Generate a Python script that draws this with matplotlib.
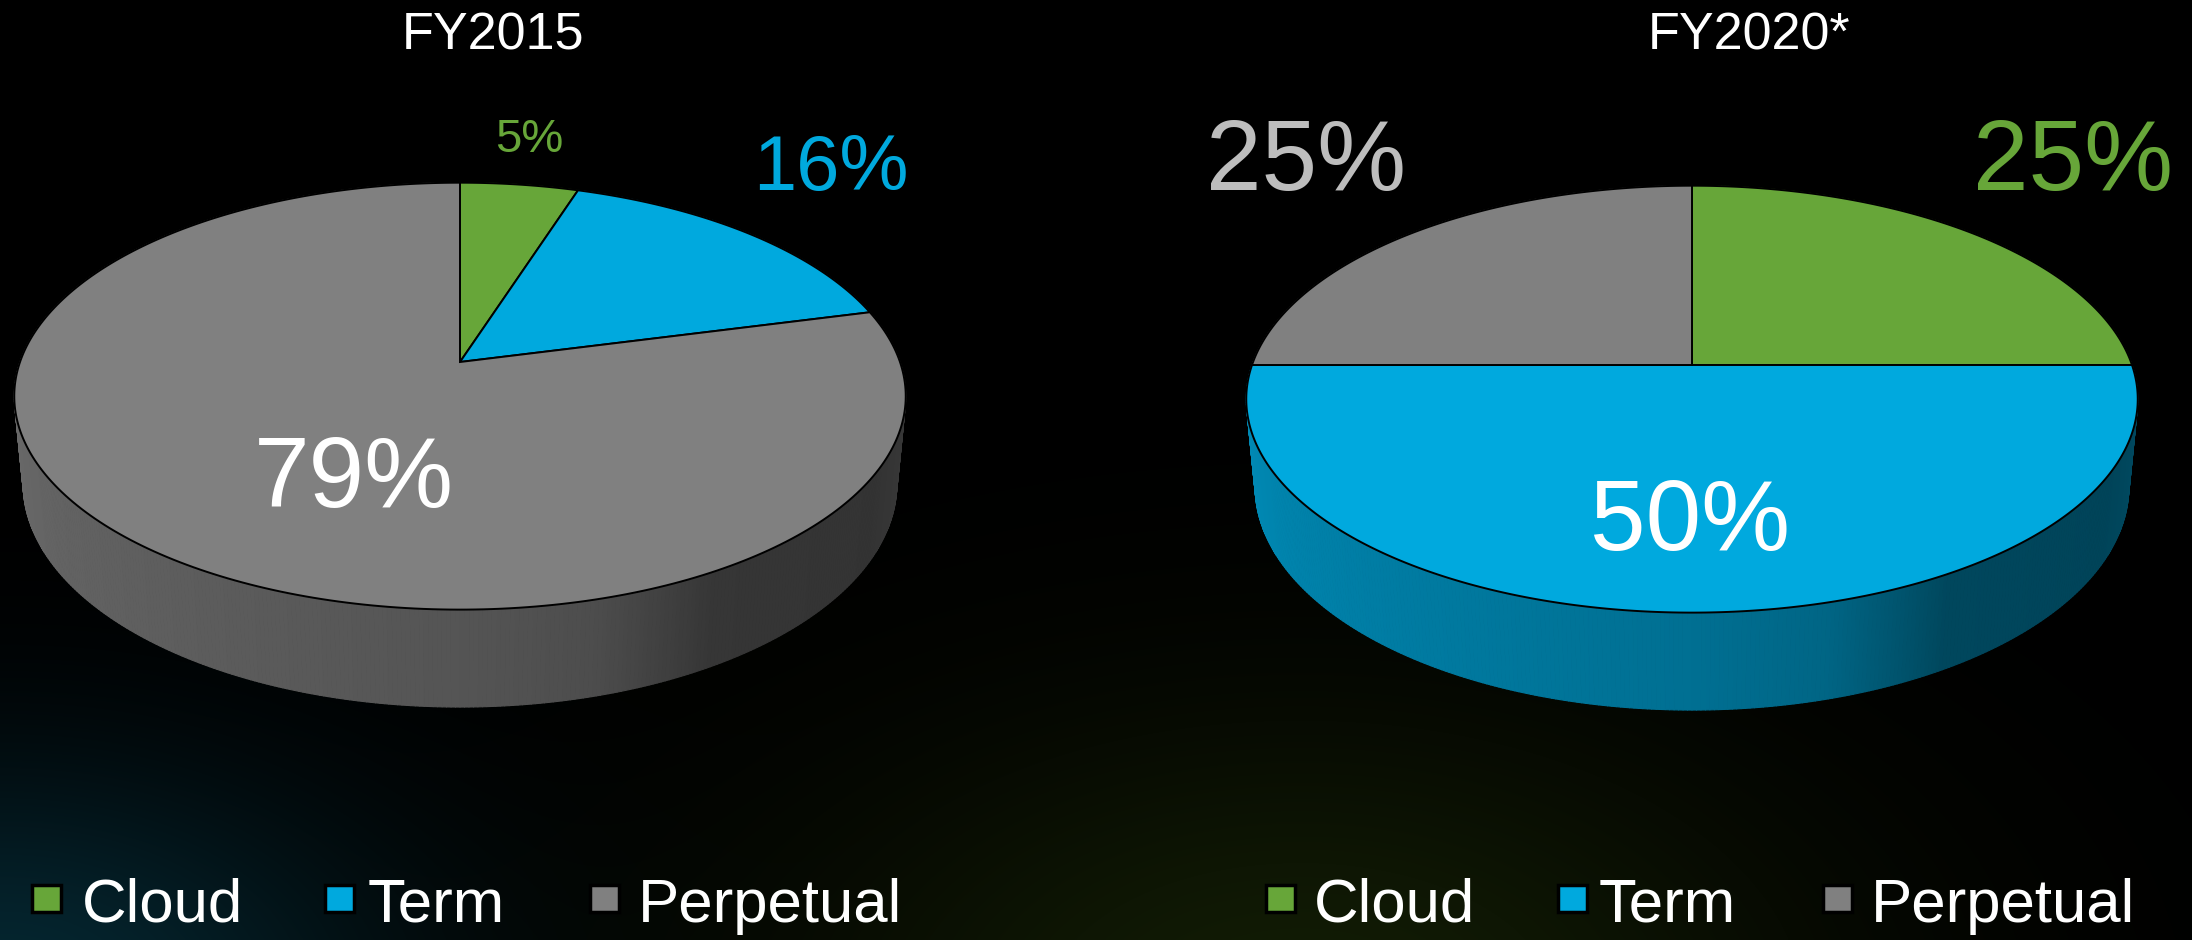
import numpy as np
import matplotlib.pyplot as plt
from matplotlib.collections import PolyCollection
from matplotlib.patches import Rectangle
from matplotlib.colors import to_rgb

# data
categories = ["Cloud", "Term", "Perpetual"]
slice_colors = ["#67a639", "#00a9de", "#808080"]
years = ["FY2015", "FY2020*"]
shares = {
    "FY2015": [5, 16, 79],
    "FY2020*": [25, 50, 25],
}
label_colors = {
    "FY2015": ["#67a639", "#00a9de", "white"],
    "FY2020*": ["#67a639", "white", "#bdbdbd"],
}

W, H = 2192, 940
plt.rcParams["font.family"] = ["Liberation Sans", "DejaVu Sans"]

fig = plt.figure(figsize=(W / 100, H / 100), dpi=100)
ax = fig.add_axes([0, 0, 1, 1])
ax.set_xlim(0, W)
ax.set_ylim(H, 0)
ax.axis("off")

# dark background with faint teal / olive glow at the bottom
yy, xx = np.mgrid[0:H:2, 0:W:2]
bg = np.zeros(xx.shape + (3,))
teal = np.exp(-((xx / 380.0) ** 2) - (((yy - 990) / 230.0) ** 2))
olive = np.exp(-(((xx - 1300) / 520.0) ** 2) - (((yy - 1010) / 300.0) ** 2))
bg += teal[..., None] * np.array([0.02, 0.15, 0.19])
bg += olive[..., None] * np.array([0.07, 0.11, 0.02])
ax.imshow(np.clip(bg, 0, 1), extent=(0, W, H, 0), zorder=0, interpolation="bilinear")

# perspective pie geometry
A, B, K, DEPTH = 208.0, 440.0, -0.16, 86.0


def project(theta, cx, cy, bottom=False):
    u = np.cos(theta)
    v = -np.sin(theta)
    s = 1.0 / (1.0 + K * v)
    shrink = 0.98 if bottom else 1.0
    x = cx + B * u * s * shrink
    y = cy + A * v * s * shrink + (DEPTH * s if bottom else 0.0)
    return x, y


def side_brightness(deg):
    d = deg % 360
    return np.interp(d, [0, 180, 200, 240, 270, 285, 300, 330, 360],
                     [0.46, 0.85, 0.80, 0.72, 0.66, 0.60, 0.42, 0.40, 0.46])


def draw_pie(values, cx, cy):
    cum = np.concatenate([[0], np.cumsum(values)]) / np.sum(values)

    def slice_of(deg):
        frac = ((90 - deg) % 360) / 360.0
        return min(np.searchsorted(cum, frac, side="right") - 1, len(values) - 1)

    # side wall, drawn back to front
    t = np.linspace(0, 2 * np.pi, 721)
    quads, cols, depth = [], [], []
    for t0, t1 in zip(t[:-1], t[1:]):
        x0, y0 = project(t0, cx, cy)
        x1, y1 = project(t1, cx, cy)
        bx0, by0 = project(t0, cx, cy, bottom=True)
        bx1, by1 = project(t1, cx, cy, bottom=True)
        quads.append([(x0, y0), (x1, y1), (bx1, by1), (bx0, by0)])
        mid = np.degrees((t0 + t1) / 2)
        base = np.array(to_rgb(slice_colors[slice_of(mid)]))
        cols.append(np.clip(base * side_brightness(mid), 0, 1))
        depth.append(-np.sin((t0 + t1) / 2))
    order = np.argsort(depth)
    quads = [quads[i] for i in order]
    cols = [cols[i] for i in order]
    ax.add_collection(PolyCollection(quads, facecolors=cols, edgecolors=cols,
                                     linewidths=0.8, zorder=2))

    # top face wedges
    for i, val in enumerate(values):
        a0 = 90 - 360 * cum[i]
        a1 = 90 - 360 * cum[i + 1]
        arc = np.radians(np.linspace(a0, a1, 300))
        xs, ys = project(arc, cx, cy)
        xs = np.concatenate([[cx], xs])
        ys = np.concatenate([[cy], ys])
        ax.fill(xs, ys, facecolor=slice_colors[i], edgecolor="black",
                linewidth=1.4, zorder=3)


centers = {"FY2015": (460, 362), "FY2020*": (1692, 365)}
title_pos = {"FY2015": (493, 50), "FY2020*": (1749, 50)}
label_pos = {
    "FY2015": [(529, 152), (831, 190), (354, 507)],
    "FY2020*": [(2073, 190), (1690, 550), (1306, 190)],
}
label_sizes = {"FY2015": [34, 56, 72], "FY2020*": [72, 72, 72]}
legend_boxes = {"FY2015": [32, 325, 590], "FY2020*": [1266, 1558, 1823]}
legend_texts = {"FY2015": [82, 368, 638], "FY2020*": [1314, 1599, 1871]}

for yr in years:
    cx, cy = centers[yr]
    draw_pie(shares[yr], cx, cy)
    ax.text(*title_pos[yr], yr, color="white", fontsize=37.5,
            ha="center", va="baseline", zorder=5)
    for (lx, ly), val, c, fs in zip(label_pos[yr], shares[yr],
                                    label_colors[yr], label_sizes[yr]):
        ax.text(lx, ly, f"{val}%", color=c, fontsize=fs,
                ha="center", va="baseline", zorder=5)
    for bx, tx, cat, c in zip(legend_boxes[yr], legend_texts[yr],
                              categories, slice_colors):
        ax.add_patch(Rectangle((bx, 885), 29, 27, facecolor=c,
                               edgecolor="black", linewidth=2.5, zorder=5))
        ax.text(tx, 922, cat, color="white", fontsize=44.5,
                ha="left", va="baseline", zorder=5)

fig.savefig("out.png", dpi=100, facecolor="black")
